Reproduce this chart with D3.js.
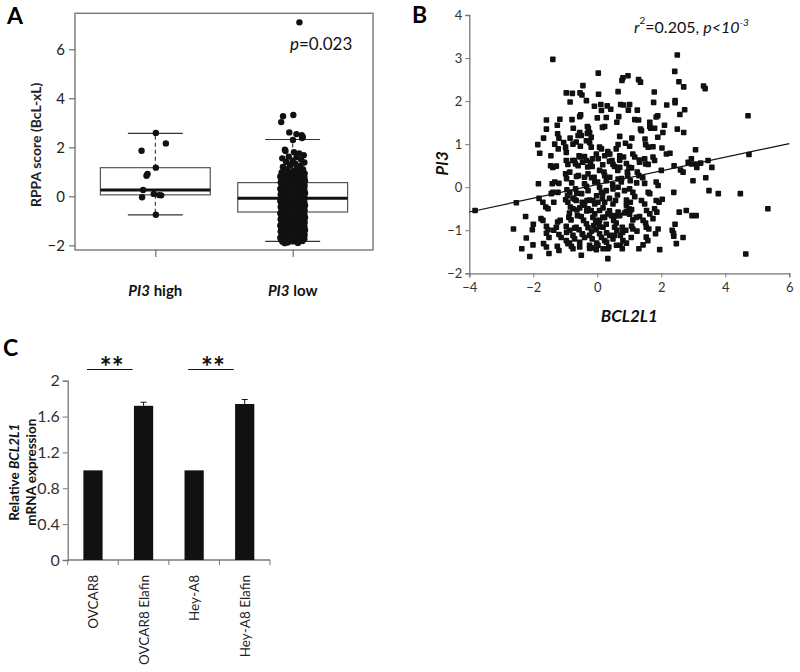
<!DOCTYPE html>
<html><head><meta charset="utf-8">
<script src="https://cdn.jsdelivr.net/npm/d3@7"></script>
<style>body{margin:0;background:#fff}svg{display:block}text{font-family:Lato,"Open Sans",sans-serif}</style>
</head><body><svg id="chart" width="800" height="672"></svg>
<script>
// ---------- Panel A data ----------
const boxGroups = ["PI3 high", "PI3 low"];
const boxQ1 = [0.06, -0.64];
const boxMedian = [0.26, -0.08];
const boxQ3 = [1.17, 0.56];
const whiskerLow = [-0.76, -1.84];
const whiskerHigh = [2.57, 2.32];
const pValueA = "0.023";
// [jitter (-1..1), RPPA score]
const highPoints = [[0.04,2.59],[0.81,2.16],[-1.06,1.86],[0.04,1.17],[-0.68,0.84],[-0.6,0.91],[-0.94,0.26],[-1.02,-0.04],[-0.12,0.1],[0.29,0.05],[0.45,0.04],[0.04,-0.75]];
const lowPoints = [
[0.52,7.1],[-0.74,3.27],[0.05,3.32],[-0.88,3.03],[-0.26,2.61],[0.29,2.54],[0.7,2.5],[0.78,2.42],[0.72,2.38],[0.02,2.3],[-0.55,1.85],
[-0.6,1.9],[0.1,1.8],[0.5,1.75],[0.85,1.68],[-0.3,1.62],[0.3,1.6],[-0.8,1.55],[0.65,1.5],[0,1.45],[-0.5,1.4],[0.9,1.38],[0.2,1.33],[-0.2,1.28],[0.6,1.25],[-0.75,1.2],[0.35,1.18],[-0.4,1.12],[0.8,1.1],[0.05,1.05],[-0.65,1.02],[0.5,1.0],
[-0.85,0.97],[-0.45,0.92],[-0.05,0.95],[0.3,0.9],[0.65,0.98],[0.92,0.93],
[-0.7,0.87],[-0.3,0.83],[0.12,0.88],[0.48,0.82],[0.8,0.86],[-0.95,0.81],
[-0.6,0.78],[-0.15,0.72],[0.22,0.76],[0.58,0.71],[0.9,0.77],[-0.88,0.73],
[-0.78,0.67],[-0.38,0.62],[0.02,0.66],[0.4,0.61],[0.75,0.68],[0.95,0.63],
[-0.92,0.57],[-0.52,0.52],[-0.2,0.56],[0.18,0.51],[0.55,0.58],[0.85,0.53],
[-0.85,0.47],[-0.45,0.42],[-0.05,0.46],[0.3,0.41],[0.65,0.48],[0.92,0.43],
[-0.7,0.37],[-0.3,0.33],[0.12,0.38],[0.48,0.32],[0.8,0.36],[-0.95,0.31],
[-0.6,0.28],[-0.15,0.22],[0.22,0.26],[0.58,0.21],[0.9,0.27],[-0.88,0.23],
[-0.78,0.17],[-0.38,0.12],[0.02,0.16],[0.4,0.11],[0.75,0.18],[0.95,0.13],
[-0.92,0.07],[-0.52,0.02],[-0.2,0.06],[0.18,0.01],[0.55,0.08],[0.85,0.03],
[-0.85,-0.03],[-0.45,-0.08],[-0.05,-0.04],[0.3,-0.09],[0.65,-0.02],[0.92,-0.07],
[-0.7,-0.13],[-0.3,-0.17],[0.12,-0.12],[0.48,-0.18],[0.8,-0.14],[-0.95,-0.19],
[-0.6,-0.22],[-0.15,-0.28],[0.22,-0.24],[0.58,-0.29],[0.9,-0.23],[-0.88,-0.27],
[-0.78,-0.33],[-0.38,-0.38],[0.02,-0.34],[0.4,-0.39],[0.75,-0.32],[0.95,-0.37],
[-0.92,-0.43],[-0.52,-0.48],[-0.2,-0.44],[0.18,-0.49],[0.55,-0.42],[0.85,-0.47],
[-0.85,-0.53],[-0.45,-0.58],[-0.05,-0.54],[0.3,-0.59],[0.65,-0.52],[0.92,-0.57],
[-0.7,-0.63],[-0.3,-0.67],[0.12,-0.62],[0.48,-0.68],[0.8,-0.64],[-0.95,-0.69],
[-0.6,-0.72],[-0.15,-0.78],[0.22,-0.74],[0.58,-0.79],[0.9,-0.73],[-0.88,-0.77],
[-0.78,-0.83],[-0.38,-0.88],[0.02,-0.84],[0.4,-0.89],[0.75,-0.82],[0.95,-0.87],
[-0.92,-0.93],[-0.52,-0.98],[-0.2,-0.94],[0.18,-0.99],[0.55,-0.92],[0.85,-0.97],
[-0.85,-1.03],[-0.45,-1.08],[-0.05,-1.04],[0.3,-1.09],[0.65,-1.02],[0.92,-1.07],
[-0.7,-1.13],[-0.3,-1.17],[0.12,-1.12],[0.48,-1.18],[0.8,-1.14],[-0.95,-1.19],
[-0.6,-1.22],[-0.15,-1.28],[0.22,-1.24],[0.58,-1.29],[0.9,-1.23],[-0.88,-1.27],
[-0.78,-1.33],[-0.38,-1.38],[0.02,-1.34],[0.4,-1.39],[0.75,-1.32],[0.95,-1.37],
[-0.92,-1.43],[-0.52,-1.48],[-0.2,-1.44],[0.18,-1.49],[0.55,-1.42],[0.85,-1.47],
[-0.85,-1.53],[-0.45,-1.58],[-0.05,-1.54],[0.3,-1.59],[0.65,-1.52],[0.92,-1.57],
[-0.7,-1.63],[-0.3,-1.67],[0.12,-1.62],[0.48,-1.68],[0.8,-1.64],[-0.95,-1.69],
[-0.6,-1.72],[-0.15,-1.78],[0.22,-1.74],[0.58,-1.79],[0.9,-1.73],[-0.88,-1.77],
[-0.78,-1.85],[-0.38,-1.88],[0.02,-1.84],[0.4,-1.9],[0.75,-1.82],[-0.6,-1.91]
];

// ---------- Panel B data ----------
// [BCL2L1, PI3]
const scatterPoints = [[2.5,3.07],[-1.39,2.97],[0.03,2.65],[2.42,2.69],[0.96,2.59],[1.29,2.5],[1.35,2.44],[0.77,2.48],[0.8,2.54],[-0.45,2.36],[2.55,2.45],[2.7,2.33],[3.32,2.35],[3.37,2.29],[-0.97,2.19],[-0.78,2.18],[-0.54,2.19],[-0.48,2.14],[0.04,2.16],[0.65,2.22],[1.78,2.21],[-0.34,2.01],[-0.85,1.98],[-0.09,1.88],[0.11,1.92],[0.31,1.89],[0.42,1.81],[0.73,1.92],[0.82,1.91],[1.01,1.92],[2.43,2.01],[2.43,1.96],[2.17,1.91],[1.76,1.97],[2.73,1.8],[0.13,1.78],[0.97,1.79],[1.25,1.79],[2.58,1.69],[-1.17,1.58],[-0.79,1.57],[-0.52,1.68],[-0.55,1.64],[0,1.61],[0.28,1.62],[0.61,1.51],[0.67,1.64],[1.17,1.57],[1.29,1.56],[1.64,1.51],[1.84,1.63],[1.89,1.66],[-1.59,1.56],[-1.25,1.44],[-1.59,1.35],[-0.75,1.37],[-0.31,1.41],[-0.28,1.37],[0.16,1.39],[0.23,1.41],[1.35,1.35],[1.38,1.31],[1.64,1.41],[1.67,1.37],[1.79,1.37],[2.1,1.44],[2.5,1.35],[2.7,1.27],[-1.68,1.14],[-1.24,1.24],[-1.2,1.14],[-0.85,1.14],[-0.55,1.27],[-0.6,1.2],[-0.5,1.2],[-0.31,1.25],[-0.24,1.27],[-0.19,1.16],[0.7,1.18],[1.08,1.14],[1.49,1.12],[1.89,1.16],[2.05,1.27],[-1.86,0.99],[-1.8,0.79],[-1.45,0.73],[-1.33,1.0],[-1.22,0.89],[-1.05,1.04],[-0.99,0.93],[-0.97,0.81],[-0.76,1.0],[-0.66,1.05],[-0.34,1.08],[-0.24,1.04],[-0.19,0.93],[-0.53,0.95],[0.07,0.93],[0.13,0.89],[0.33,0.83],[0.33,0.77],[0.59,0.89],[0.65,0.99],[0.88,1.02],[1.01,0.95],[1.51,0.99],[1.59,0.93],[1.74,0.94],[2.02,0.91],[2.16,0.77],[2.27,0.79],[3.07,0.87],[-0.57,0.73],[-0.53,0.7],[-0.4,0.71],[-0.34,0.62],[-0.03,0.77],[0.03,0.66],[0.23,0.73],[0.39,0.77],[0.7,0.73],[0.82,0.7],[1.11,0.77],[1.17,0.7],[1.32,0.63],[1.51,0.54],[1.59,0.53],[1.74,0.7],[1.79,0.62],[2.94,0.66],[2.84,0.58],[2.94,0.54],[3.09,0.54],[3.11,0.46],[3.23,0.56],[3.46,0.62],[3.58,0.46],[4.71,1.66],[4.74,0.76],[-1.46,0.5],[-1.39,0.46],[-1.28,0.49],[-0.97,0.62],[-0.92,0.53],[-0.71,0.62],[-0.68,0.54],[-0.21,0.58],[-0.16,0.48],[0.07,0.39],[0.21,0.35],[0.46,0.62],[0.49,0.53],[0.64,0.39],[0.7,0.46],[0.94,0.35],[0.99,0.46],[1.25,0.35],[1.3,0.27],[2.0,0.39],[2.4,0.5],[2.6,0.4],[2.68,0.35],[2.99,0.15],[3.39,0.22],[-0.99,0.31],[-0.86,0.35],[-0.59,0.27],[-0.4,0.23],[-0.29,0.31],[-0.1,0.23],[-0.08,0.12],[0.28,0.15],[0.39,0.23],[0.65,0.19],[0.75,0.12],[1.03,0.15],[1.48,0.09],[1.84,0.12],[-1.84,0.08],[-1.41,0.08],[-1.33,0.12],[-1.2,0.09],[-1.39,-0.12],[-1.44,-0.15],[-1.23,-0.12],[-0.95,-0.06],[-0.86,-0.12],[-0.68,-0.04],[-0.64,-0.14],[-0.34,0.02],[-0.29,-0.08],[0.07,0],[0.13,-0.12],[0.28,-0.08],[0.49,-0.04],[0.65,0],[0.85,-0.08],[1.01,-0.04],[1.11,-0.12],[1.59,-0.12],[1.64,-0.15],[1.9,0.04],[2.39,-0.12],[3.49,-0.08],[3.78,-0.15],[4.47,-0.15],[-3.82,-0.54],[-2.53,-0.36],[-1.82,-0.26],[-1.7,-0.35],[-1.36,-0.35],[-0.99,-0.29],[-0.92,-0.35],[-0.76,-0.25],[-0.66,-0.31],[-0.47,-0.35],[-0.4,-0.42],[-0.32,-0.31],[-0.14,-0.31],[-0.08,-0.39],[0.02,-0.35],[0.16,-0.27],[0.23,-0.35],[0.49,-0.39],[0.57,-0.31],[0.91,-0.42],[0.99,-0.5],[1.03,-0.35],[1.38,-0.31],[1.48,-0.39],[1.84,-0.31],[1.93,-0.35],[2.03,-0.28],[5.33,-0.5],[-1.61,-0.46],[-1.54,-0.5],[-0.84,-0.46],[-0.76,-0.5],[-0.64,-0.53],[-0.55,-0.48],[-0.29,-0.5],[-0.19,-0.54],[0.07,-0.54],[0.18,-0.48],[0.33,-0.62],[0.44,-0.66],[0.65,-0.58],[0.7,-0.66],[0.91,-0.56],[1.01,-0.63],[1.54,-0.54],[1.64,-0.62],[1.79,-0.5],[1.86,-0.58],[2.56,-0.58],[2.78,-0.54],[2.96,-0.66],[3.09,-0.66],[-2.24,-0.68],[-1.76,-0.73],[-1.7,-0.77],[-1.24,-0.81],[-1.16,-0.77],[-0.89,-0.7],[-0.82,-0.76],[-0.5,-0.68],[-0.43,-0.77],[-0.14,-0.7],[-0.05,-0.77],[0.07,-0.77],[0.23,-0.7],[0.51,-0.77],[0.59,-0.83],[1.11,-0.76],[1.22,-0.7],[1.43,-0.77],[1.51,-0.83],[1.74,-0.73],[-2.62,-0.97],[-2.0,-0.86],[-2.03,-0.99],[-1.59,-0.91],[-1.54,-0.99],[-1.36,-1.0],[-1.28,-0.93],[-0.97,-0.91],[-0.86,-1.0],[-0.66,-0.93],[-0.57,-0.99],[-0.34,-0.85],[-0.29,-0.94],[-0.11,-0.89],[-0.03,-0.99],[0.05,-0.83],[0.18,-0.93],[0.28,-0.86],[0.54,-0.93],[0.61,-1.0],[0.78,-0.93],[0.89,-1.0],[1.11,-0.97],[1.24,-1.02],[1.53,-0.93],[1.61,-0.97],[1.9,-0.97],[2.34,-1.0],[2.38,-1.07],[2.43,-0.86],[-1.59,-1.07],[-1.51,-1.17],[-1.2,-1.1],[-1.13,-1.17],[-0.76,-1.12],[-0.71,-1.2],[-0.47,-1.08],[-0.4,-1.17],[-0.24,-1.12],[-0.16,-1.2],[0.07,-1.08],[0.13,-1.17],[0.39,-1.12],[0.49,-1.2],[0.72,-1.12],[0.8,-1.24],[1.06,-1.17],[1.53,-1.16],[1.58,-1.24],[1.82,-1.08],[2.39,-1.14],[2.68,-1.17],[-2.22,-1.18],[-2.01,-1.34],[-2.36,-1.43],[-2.11,-1.61],[-1.68,-1.31],[-1.59,-1.39],[-1.51,-1.54],[-1.25,-1.37],[-1.2,-1.47],[-0.81,-1.37],[-0.76,-1.43],[-0.55,-1.39],[-0.5,-1.58],[-0.24,-1.35],[-0.16,-1.41],[-0.03,-1.45],[0.02,-1.35],[0.36,-1.39],[0.33,-1.43],[0.33,-1.66],[0.72,-1.35],[0.78,-1.43],[1.3,-1.43],[1.43,-1.34],[1.95,-1.45],[2.47,-1.31],[4.64,-1.55],[0.18,-1.43],[0.23,-1.24],[-0.97,-1.24],[-0.92,-1.31],
[-0.77,0.62],[-0.6,0.5],[-0.46,0.58],[-0.3,0.47],[-0.15,0.66],[0.17,0.52],[0.38,0.6],[0.54,0.48],[0.7,0.63],[0.91,0.55],[1.07,0.45],[1.32,0.58],[1.48,0.66],
[-0.96,0.2],[-0.8,0.1],[-0.65,0.25],[-0.4,0.08],[-0.18,0.22],[0.01,0.12],[0.23,0.27],[0.48,0.06],[0.76,0.2],[0.95,0.28],[1.23,0.1],[1.42,0.22],
[-0.93,-0.2],[-0.71,-0.28],[-0.49,-0.15],[-0.24,-0.3],[-0.02,-0.2],[0.17,-0.14],[0.38,-0.26],[0.63,-0.18],[0.91,-0.3],[1.17,-0.22],
[-0.87,-0.6],[-0.62,-0.66],[-0.33,-0.55],[-0.08,-0.62],[0.17,-0.7],[0.38,-0.55],[0.6,-0.66],[0.85,-0.6],[1.07,-0.52],[1.32,-0.68],
[-0.96,-1.05],[-0.71,-0.95],[-0.46,-1.1],[-0.18,-1.02],[0.07,-0.92],[0.29,-1.06],[0.54,-1.12],[0.79,-1.05],[1.07,-0.9],
[-0.87,-1.3],[-0.55,-1.28],[-0.24,-1.42],[-0.02,-1.3],[0.29,-1.28],[0.6,-1.35],[0.91,-1.3]];
const fitCoef = [0.06, 0.159]; // intercept, slope
const xTicksB = [-4, -2, 0, 2, 4, 6];
const yTicksB = [-2, -1, 0, 1, 2, 3, 4];

// ---------- Panel C data ----------
const cellLines = ["OVCAR8", "OVCAR8 Elafin", "Hey-A8", "Hey-A8 Elafin"];
const expression = [1.0, 1.72, 1.0, 1.74];
const expressionErr = [0, 0.04, 0, 0.05];
const sigPairs = [[0, 1], [2, 3]];
const yTicksC = [0, 0.4, 0.8, 1.2, 1.6, 2];

const svg = d3.select("#chart");
const ink = "#111";

// ================= PANEL A =================
const gA = svg.append("g");
const ax = d3.scalePoint().domain(boxGroups).range([75, 373]).padding(0.585);
const ay = d3.scaleLinear().domain([-2.19, 7.47]).range([250, 13.3]);
const step = ax.step();
const jitterW = 13;

gA.append("rect").attr("x", 75).attr("y", ay(7.47)).attr("width", 298).attr("height", ay(-2.19) - ay(7.47))
  .attr("fill", "none").attr("stroke", "#777").attr("stroke-width", 1.4);

const yAxA = gA.append("g").attr("transform", "translate(75,0)")
  .call(d3.axisLeft(ay).tickValues([-2, 0, 2, 4, 6]).tickSize(6).tickPadding(4));
yAxA.select(".domain").remove();
yAxA.selectAll("line").attr("stroke", "#555");
yAxA.selectAll("text").attr("font-size", 15).attr("fill", "#222").attr("font-family", "Lato");

const xAxA = gA.append("g").attr("transform", "translate(0,250)")
  .call(d3.axisBottom(ax).tickSize(7).tickFormat(""));
xAxA.select(".domain").remove();
xAxA.selectAll("line").attr("stroke", "#555");

boxGroups.forEach((g, i) => {
  const cx = ax(g);
  gA.append("line").attr("x1", cx).attr("x2", cx).attr("y1", ay(boxQ3[i])).attr("y2", ay(whiskerHigh[i]))
    .attr("stroke", "#333").attr("stroke-dasharray", "4,3").attr("stroke-width", 1.1);
  gA.append("line").attr("x1", cx).attr("x2", cx).attr("y1", ay(boxQ1[i])).attr("y2", ay(whiskerLow[i]))
    .attr("stroke", "#333").attr("stroke-dasharray", "4,3").attr("stroke-width", 1.1);
  [whiskerHigh[i], whiskerLow[i]].forEach(v => {
    gA.append("line").attr("x1", cx - step * 0.2).attr("x2", cx + step * 0.2).attr("y1", ay(v)).attr("y2", ay(v))
      .attr("stroke", "#333").attr("stroke-width", 1.2);
  });
  gA.append("rect").attr("x", cx - step * 0.4).attr("width", step * 0.8)
    .attr("y", ay(boxQ3[i])).attr("height", ay(boxQ1[i]) - ay(boxQ3[i]))
    .attr("fill", "#fff").attr("stroke", "#555").attr("stroke-width", 1.2);
  gA.append("line").attr("x1", cx - step * 0.4).attr("x2", cx + step * 0.4)
    .attr("y1", ay(boxMedian[i])).attr("y2", ay(boxMedian[i])).attr("stroke", ink).attr("stroke-width", 3);
});

[highPoints, lowPoints].forEach((pts, i) => {
  gA.append("g").selectAll("circle").data(pts).join("circle")
    .attr("cx", d => ax(boxGroups[i]) + d[0] * jitterW)
    .attr("cy", d => ay(d[1]))
    .attr("r", 3.2).attr("fill", ink);
});

gA.append("text").attr("transform", `translate(41,${ay(2.1)}) rotate(-90)`).attr("text-anchor", "middle")
  .attr("font-size", 14).attr("font-weight", 700).attr("fill", "#222").text("RPPA score (BcL-xL)");
boxGroups.forEach(g => {
  const [gene, lvl] = g.split(" ");
  const t = gA.append("text").attr("x", ax(g)).attr("y", 296).attr("text-anchor", "middle")
    .attr("font-size", 15).attr("font-weight", 700).attr("fill", "#111");
  t.append("tspan").attr("font-style", "italic").text(gene);
  t.append("tspan").text(" " + lvl);
});
const pt = gA.append("text").attr("x", 290).attr("y", 50).attr("font-size", 17).attr("fill", "#111");
pt.append("tspan").attr("font-style", "italic").text("p");
pt.append("tspan").text("=" + pValueA);
svg.append("text").attr("x", 7).attr("y", 24).attr("font-size", 23).attr("font-weight", 700).text("A");

// ================= PANEL B =================
const gB = svg.append("g");
const bx = d3.scaleLinear().domain([-4, 6]).range([469.3, 789.3]);
const by = d3.scaleLinear().domain([-2, 4]).range([273.3, 15]);

const yAxB = gB.append("g").attr("transform", `translate(${bx(-4)},0)`)
  .call(d3.axisLeft(by).tickValues(yTicksB).tickSize(4).tickPadding(3).tickFormat(d3.format("d")));
const xAxB = gB.append("g").attr("transform", `translate(0,${by(-2)})`)
  .call(d3.axisBottom(bx).tickValues(xTicksB).tickSize(4).tickPadding(5).tickFormat(d3.format("d")));
[yAxB, xAxB].forEach(a => {
  a.select(".domain").attr("stroke", "#777").attr("stroke-width", 1.3);
  a.selectAll("line").attr("stroke", "#777");
  a.selectAll("text").attr("font-size", 13).attr("fill", "#333").attr("font-family", "Lato");
});

gB.append("g").selectAll("rect").data(scatterPoints).join("rect")
  .attr("x", d => bx(d[0]) - 2.8).attr("y", d => by(d[1]) - 2.8)
  .attr("width", 5.6).attr("height", 5.6).attr("rx", 0.8).attr("fill", ink);

const fit = x => fitCoef[0] + fitCoef[1] * x;
gB.append("line").attr("x1", bx(-4)).attr("y1", by(fit(-4))).attr("x2", bx(6)).attr("y2", by(fit(6)))
  .attr("stroke", ink).attr("stroke-width", 1.2);

const ann = gB.append("text").attr("x", 634).attr("y", 33).attr("font-size", 16).attr("fill", "#111");
ann.append("tspan").attr("font-style", "italic").text("r");
ann.append("tspan").attr("font-size", 10).attr("dy", -9).text("2");
ann.append("tspan").attr("dy", 9).text("=0.205,  ");
ann.append("tspan").attr("font-style", "italic").text("p<10");
ann.append("tspan").attr("font-style", "italic").attr("font-size", 10).attr("dy", -7).text("-3");

gB.append("text").attr("x", bx(1)).attr("y", 322).attr("text-anchor", "middle").attr("font-size", 17)
  .attr("font-weight", 700).attr("font-style", "italic").attr("fill", "#111").text("BCL2L1");
gB.append("text").attr("transform", `translate(448,${by(0.55)}) rotate(-90)`).attr("text-anchor", "middle")
  .attr("font-size", 17).attr("font-weight", 700).attr("font-style", "italic").attr("fill", "#111").text("PI3");
svg.append("text").attr("x", 412).attr("y", 23).attr("font-size", 23).attr("font-weight", 700).text("B");

// ================= PANEL C =================
const gC = svg.append("g");
const cx = d3.scaleBand().domain(cellLines).range([67.7, 270]).padding(0);
const cy = d3.scaleLinear().domain([0, 2]).range([560, 380.7]);
const bw = cx.bandwidth() * 0.38;

const yAxC = gC.append("g").attr("transform", "translate(67.7,0)")
  .call(d3.axisLeft(cy).tickValues(yTicksC).tickSize(5).tickPadding(3).tickFormat(d => d));
yAxC.select(".domain").attr("stroke", "#777").attr("stroke-width", 1.3);
yAxC.selectAll("line").attr("stroke", "#777");
yAxC.selectAll("text").attr("font-size", 16).attr("fill", "#333").attr("font-family", "Lato");

gC.append("line").attr("x1", 67.7).attr("x2", 270).attr("y1", cy(0)).attr("y2", cy(0))
  .attr("stroke", "#777").attr("stroke-width", 1.3);
gC.append("g").selectAll("line").data(cellLines.map(c => cx(c)).concat([270])).join("line")
  .attr("x1", d => d).attr("x2", d => d).attr("y1", cy(0)).attr("y2", cy(0) + 5).attr("stroke", "#777");

gC.append("g").selectAll("rect").data(cellLines).join("rect")
  .attr("x", d => cx(d) + cx.bandwidth() / 2 - bw / 2).attr("width", bw)
  .attr("y", (d, i) => cy(expression[i])).attr("height", (d, i) => cy(0) - cy(expression[i]))
  .attr("fill", ink);

cellLines.forEach((c, i) => {
  if (!expressionErr[i]) return;
  const m = cx(c) + cx.bandwidth() / 2;
  gC.append("line").attr("x1", m).attr("x2", m).attr("y1", cy(expression[i])).attr("y2", cy(expression[i] + expressionErr[i]))
    .attr("stroke", ink).attr("stroke-width", 1);
  gC.append("line").attr("x1", m - 3).attr("x2", m + 3).attr("y1", cy(expression[i] + expressionErr[i]))
    .attr("y2", cy(expression[i] + expressionErr[i])).attr("stroke", ink).attr("stroke-width", 1);
});

sigPairs.forEach(([a, b]) => {
  const x1 = cx(cellLines[a]) + cx.bandwidth() / 2 - 6;
  const x2 = cx(cellLines[b]) + cx.bandwidth() / 2 - 11;
  gC.append("line").attr("x1", x1).attr("x2", x2).attr("y1", 369.5).attr("y2", 369.5).attr("stroke", ink).attr("stroke-width", 1.2);
  gC.append("text").attr("x", (x1 + x2) / 2 + 2).attr("y", 377).attr("text-anchor", "middle")
    .attr("font-family", "DejaVu Sans").attr("font-size", 28).attr("font-weight", 700).attr("fill", ink).text("**");
});

cellLines.forEach(c => {
  gC.append("text").attr("transform", `translate(${cx(c) + cx.bandwidth() / 2 + 5},575) rotate(-90)`)
    .attr("text-anchor", "end").attr("font-size", 13.5).attr("fill", "#222").text(c);
});

const yl1 = gC.append("text").attr("transform", `translate(19,${cy(0.98)}) rotate(-90)`).attr("text-anchor", "middle")
  .attr("font-size", 13.5).attr("font-weight", 700).attr("fill", "#111");
yl1.append("tspan").text("Relative ");
yl1.append("tspan").attr("font-style", "italic").text("BCL2L1");
gC.append("text").attr("transform", `translate(36,${cy(0.98)}) rotate(-90)`).attr("text-anchor", "middle")
  .attr("font-size", 13.5).attr("font-weight", 700).attr("fill", "#111").text("mRNA expression");
svg.append("text").attr("x", 3).attr("y", 356).attr("font-size", 23).attr("font-weight", 700).text("C");
</script></body></html>
